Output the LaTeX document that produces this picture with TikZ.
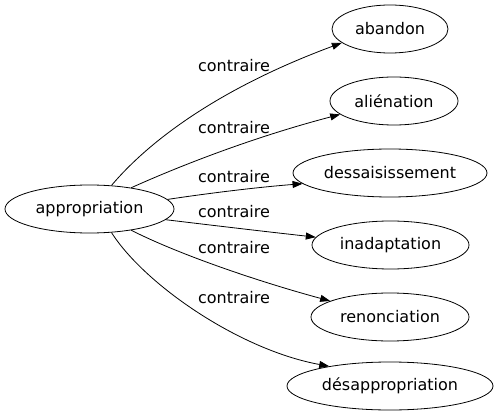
\documentclass[tikz,border=0pt]{standalone}
\usepackage{fontspec}
\setmainfont{DejaVu Sans}
\usetikzlibrary{shapes.geometric,arrows.meta}
\begin{document}
\begin{tikzpicture}[x=1pt,y=-1pt,
  every node/.style={font=\fontsize{16}{19}\selectfont},
  word/.style={ellipse,draw,line width=0.8pt,minimum height=48pt,inner sep=0pt},
  rel/.style={anchor=base,inner sep=0pt},
  edge/.style={draw,line width=0.8pt,-{Triangle[length=10pt,width=7pt]}}]
\useasboundingbox (0,0) rectangle (497,419);
\node[word,minimum width=169pt] (app) at (89.5,209) {appropriation};
\node[word,minimum width=116pt] (ab) at (390,29) {abandon};
\node[word,minimum width=128pt] (al) at (394,101) {aliénation};
\node[word,minimum width=194pt] (de) at (390,173) {dessaisissement};
\node[word,minimum width=157pt] (in) at (390.5,245) {inadaptation};
\node[word,minimum width=158pt] (re) at (390,317) {renonciation};
\node[word,minimum width=206pt] (ds) at (390,386) {désappropriation};
\path[edge] (app.47) .. controls (150,140) and (220,88) .. (ab.196);
\path[edge] (app.27) .. controls (175,168) and (250,138) .. (al.194);
\path[edge] (app.7) .. controls (210,193) and (260,187) .. (de.187);
\path[edge] (app.-8) .. controls (210,225) and (260,231) .. (in.174);
\path[edge] (app.-27) .. controls (180,255) and (260,282) .. (re.165);
\path[edge] (app.-47) .. controls (145,285) and (240,350) .. (ds.162);
\node[rel] (l1) at (234,72) {contraire};
\node[rel] (l2) at (234,134) {contraire};
\node[rel] (l3) at (234,183) {contraire};
\node[rel] (l4) at (234,218) {contraire};
\node[rel] (l5) at (234,254) {contraire};
\node[rel] (l6) at (234,303) {contraire};
\end{tikzpicture}
\end{document}
